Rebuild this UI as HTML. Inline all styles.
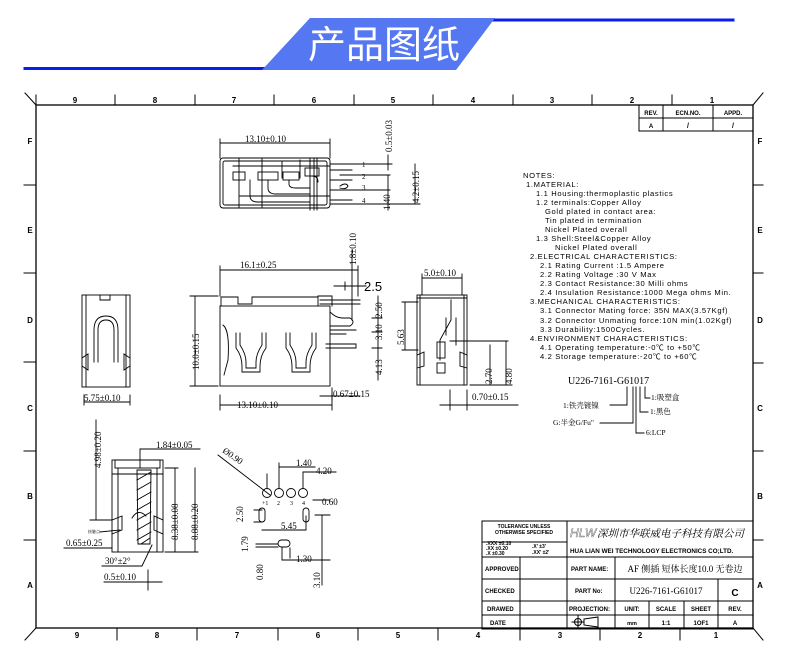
<!DOCTYPE html>
<html><head><meta charset="utf-8">
<style>
html,body{margin:0;padding:0;background:#fff;}
svg{display:block;}
.s{font-family:"Liberation Sans","Noto Sans CJK SC",sans-serif;}
.r{font-family:"Liberation Serif","Noto Serif CJK SC",serif;}
</style></head><body>
<svg width="790" height="663" viewBox="0 0 790 663" xmlns="http://www.w3.org/2000/svg" stroke-linecap="square">
<!-- header -->
<line x1="25" y1="68.5" x2="265" y2="68.5" stroke="#0a1ef0" stroke-width="3"/>
<line x1="492" y1="20" x2="733" y2="20" stroke="#0a1ef0" stroke-width="3"/>
<polygon points="310,18 495,18 456,70 262,70" fill="#5577f2"/>
<text x="384" y="58" text-anchor="middle" class="s" font-size="38" fill="#fff" font-family="Noto Sans CJK SC">产品图纸</text>

<g stroke="#000" fill="none" stroke-width="1">
<rect x="36" y="105" width="717" height="523" stroke-width="1.3"/>
<line x1="25" y1="93" x2="36" y2="105"/>
<line x1="753" y1="105" x2="763" y2="93"/>
<line x1="753" y1="628" x2="763" y2="640"/>
<line x1="25" y1="640" x2="36" y2="628"/>
<line x1="36" y1="95" x2="36" y2="105"/>
<path d="M115 95V105M195 95V105M274 95V105M354 95V105M433 95V105M513 95V105M592 95V105M672 95V105"/>
<path d="M117 628V640M197 628V640M278 628V640M358 628V640M438 628V640M520 628V640M600 628V640M680 628V640"/>
<path d="M24 185H36M24 273H36M24 362H36M24 451H36M24 540H36"/>
<path d="M753 185H763M753 273H763M753 363H763M753 451H763M753 540H763"/>
<rect x="639" y="105" width="114" height="26"/>
<path d="M639 118H753M663 105V131M713 105V131"/>
</g>
<g class="s" font-size="8" font-weight="bold" text-anchor="middle">
<text x="75" y="103">9</text><text x="155" y="103">8</text><text x="234" y="103">7</text><text x="314" y="103">6</text><text x="393" y="103">5</text><text x="473" y="103">4</text><text x="552" y="103">3</text><text x="632" y="103">2</text><text x="712" y="103">1</text>
<text x="77" y="638">9</text><text x="157" y="638">8</text><text x="237" y="638">7</text><text x="318" y="638">6</text><text x="398" y="638">5</text><text x="478" y="638">4</text><text x="560" y="638">3</text><text x="640" y="638">2</text><text x="716" y="638">1</text>
<text x="30" y="144">F</text><text x="30" y="233">E</text><text x="30" y="323">D</text><text x="30" y="411">C</text><text x="30" y="499">B</text><text x="30" y="588">A</text>
<text x="760" y="144">F</text><text x="760" y="233">E</text><text x="760" y="323">D</text><text x="760" y="411">C</text><text x="760" y="499">B</text><text x="760" y="588">A</text>
<text x="651" y="115" font-size="6">REV.</text><text x="688" y="115" font-size="6">ECN.NO.</text><text x="733" y="115" font-size="6">APPD.</text>
<text x="651" y="128" font-size="6">A</text><text x="688" y="128" font-size="7">/</text><text x="733" y="128" font-size="7">/</text>
</g>

<!-- TOP VIEW -->
<g stroke="#000" fill="none" stroke-width="0.9">
<rect x="220" y="158" width="110" height="50" rx="3"/>
<rect x="223" y="161" width="104" height="44" rx="2"/>
<path d="M239 158V208M262 158V208M282 162V178M300 160V178M330 164H360M330 170H352M330 180H352M330 190H352M330 200H352M330 204H360"/>
<rect x="233" y="172" width="12" height="8"/><rect x="258" y="172" width="20" height="8"/><rect x="283" y="172" width="16" height="8"/><rect x="305" y="168" width="14" height="8"/>
<path d="M310 158V210M314 158V210M317 158V210M233 166H330M240 196H330"/>
<path d="M250 180V196Q250 202 258 202H310M268 180V188Q268 194 276 194H310M289 180V184Q289 188 296 188H310M312 176Q318 176 318 182"/>
<path d="M340 186Q346 182 348 186Q346 190 340 188"/>
<path d="M220 143H330M220 139V158M330 139V158"/>
<path d="M358 164H392M340 175H390M340 190H390M358 204H420M388 155V170M388 175V210M415 164V204"/>
</g>
<g class="r" font-size="9">
<text x="245" y="142">13.10±0.10</text>
<text transform="translate(392,152) rotate(-90)">0.5±0.03</text>
<text transform="translate(419,203) rotate(-90)">4.2±0.15</text>
<text transform="translate(390,210) rotate(-90)">1.40</text>
<text x="362" y="167" font-size="7">1</text><text x="362" y="179" font-size="7">2</text><text x="362" y="190" font-size="7">3</text><text x="362" y="203" font-size="7">4</text>
</g>

<!-- LEFT SIDE VIEW -->
<g stroke="#000" fill="none" stroke-width="0.9">
<rect x="82" y="295" width="48" height="92"/>
<path d="M86 295V387M126 295V387M100 295V300H110V295"/>
<path d="M94 362V330Q94 316 106 316Q118 316 118 330V362M98 362V330Q98 320 106 320Q114 320 114 330V362"/>
<path d="M82 358L88 354V370L82 366M130 358L124 354V370L130 366"/>
<path d="M84 395V405M130 395V405M84 402H130"/>
</g>
<text x="84" y="401" class="r" font-size="9">5.75±0.10</text>

<!-- FRONT VIEW -->
<g stroke="#000" fill="none" stroke-width="0.9">
<rect x="220" y="306" width="110" height="80"/>
<path d="M221 306V297H238V304H252V297H318V306"/>
<path d="M318 296H332V306M320 300H360M320 304H360"/>
<path d="M236 333V348Q242 356 242 366V372H260V366Q260 356 266 348V333M240 333V345Q246 354 246 362V368H256V362Q256 354 262 345V333"/>
<path d="M286 333V348Q292 356 292 366V372H310V366Q310 356 316 348V333M290 333V345Q296 354 296 362V368H306V362Q306 354 312 345V333"/>
<path d="M223 325Q230 330 228 360L224 375"/>
<path d="M330 312Q336 318 342 318H350Q356 322 350 326H330M330 330H356M330 334H346M326 344H356V348H326"/>
<path d="M220 270H358M220 266V296M358 266V296"/>
<path d="M220 405H332M220 395V410M332 395V410"/>
<path d="M195 296V386M190 296H218M190 386H218"/>
<path d="M352 250V320M334 286H366M345 282V290M378 296V380M372 318H382M372 332H382M372 348H382"/>
<path d="M320 396H360M332 388V400"/>
</g>
<g class="r" font-size="9">
<text x="240" y="268">16.1±0.25</text>
<text x="237" y="408">13.10±0.10</text>
<text transform="translate(199,370) rotate(-90)">10.0±0.15</text>
<text transform="translate(356,265) rotate(-90)">1.8±0.10</text>
<text x="364" y="291" font-size="13" class="s">2.5</text>
<text transform="translate(382,318) rotate(-90)">2.50</text>
<text transform="translate(382,340) rotate(-90)">3.10</text>
<text transform="translate(382,375) rotate(-90)">4.13</text>
<text transform="translate(404,345) rotate(-90)">5.63</text>
<text x="333" y="397">0.67±0.15</text>
</g>

<!-- RIGHT SIDE VIEW -->
<g stroke="#000" fill="none" stroke-width="0.9">
<rect x="417" y="295" width="50" height="90"/>
<path d="M420 295V385M464 295V385M417 298H467"/>
<path d="M451 300V320L440 340V360M446 318V335M456 318V345"/>
<rect x="437" y="342" width="8" height="16"/><rect x="437" y="363" width="8" height="10"/>
<path d="M417 355L424 352V366L417 368M467 355L460 352V366L467 368"/>
<path d="M422 278H462M422 274V295M462 274V295"/>
<path d="M405 302V350M402 302H418M402 350H418"/>
<path d="M450 341H508M470 385H512M490 345V385M506 341V385"/>
<path d="M440 405H518M450 390V410M467 390V410"/>
</g>
<g class="r" font-size="9">
<text x="424" y="276">5.0±0.10</text>
<text transform="translate(492,384) rotate(-90)">2.70</text>
<text transform="translate(512,384) rotate(-90)">4.80</text>
<text x="472" y="400">0.70±0.15</text>
</g>

<!-- NOTES -->
<g class="s" font-size="7.6" letter-spacing="0.65">
<text x="523" y="178">NOTES:</text>
<text x="526" y="187">1.MATERIAL:</text>
<text x="536" y="196">1.1 Housing:thermoplastic plastics</text>
<text x="536" y="205">1.2 terminals:Copper Alloy</text>
<text x="545" y="214">Gold plated in contact area:</text>
<text x="545" y="223">Tin plated in termination</text>
<text x="545" y="232">Nickel Plated overall</text>
<text x="536" y="241">1.3 Shell:Steel&amp;Copper Alloy</text>
<text x="555" y="250">Nickel Plated overall</text>
<text x="530" y="259">2.ELECTRICAL CHARACTERISTICS:</text>
<text x="540" y="268">2.1 Rating Current :1.5 Ampere</text>
<text x="540" y="277">2.2 Rating Voltage :30 V Max</text>
<text x="540" y="286">2.3 Contact Resistance:30 Milli ohms</text>
<text x="540" y="295">2.4 Insulation Resistance:1000 Mega ohms Min.</text>
<text x="530" y="304">3.MECHANICAL CHARACTERISTICS:</text>
<text x="540" y="313">3.1 Connector Mating force: 35N MAX(3.57Kgf)</text>
<text x="540" y="323">3.2 Connector Unmating force:10N min(1.02Kgf)</text>
<text x="540" y="332">3.3 Durability:1500Cycles.</text>
<text x="530" y="341">4.ENVIRONMENT CHARACTERISTICS:</text>
<text x="540" y="350">4.1 Operating temperature:-0℃ to +50℃</text>
<text x="540" y="359">4.2 Storage temperature:-20℃ to +60℃</text>
</g>
<text x="568" y="384" class="r" font-size="10">U226-7161-G61017</text>
<g stroke="#000" fill="none" stroke-width="0.9">
<path d="M645 387V398H650M640 387V412H648M627 387V405H610M633 387V423H600M636 387V433H644"/>
</g>
<g class="r" font-size="7.5">
<text x="651" y="400">1:吸塑盒</text>
<text x="563" y="408">1:铁壳镀镍</text>
<text x="650" y="414">1:黑色</text>
<text x="553" y="425">G:半金G/Fu"</text>
<text x="646" y="435">6:LCP</text>
</g>

<!-- BOTTOM LEFT VIEW -->
<g stroke="#000" fill="none" stroke-width="0.9">
<rect x="112" y="460" width="51" height="92"/>
<rect x="115" y="460" width="45" height="8"/>
<path d="M118 468V552M157 468V552M112 474H163"/>
<polygon points="137,470 151,470 150,544 138,544"/>
<path d="M137 480L151 472M137 490L151 482M137 500L151 492M137 510L151 502M137 520L151 512M137 530L151 522M137 540L151 532M141 544L150 538"/>
<path d="M112 520L122 516V530L112 534M163 520L154 516V530L163 534"/>
<path d="M132 518Q138 508 146 516"/>
<path d="M96 420V520M90 520H112"/>
<path d="M140 449H200M140 449V468"/>
<path d="M165 468H178M165 552H198M175 468V552M195 468V552"/>
<path d="M64 548H112M100 532L120 530"/>
<path d="M102 566H142L152 545M104 582H162M148 570V590"/>
</g>
<g class="r" font-size="9">
<text transform="translate(101,468) rotate(-90)">4.98±0.20</text>
<text x="156" y="448">1.84±0.05</text>
<text transform="translate(178,540) rotate(-90)">8.38±0.08</text>
<text transform="translate(198,540) rotate(-90)">8.88±0.20</text>
<text x="88" y="533" font-size="4">接触点</text>
<text x="66" y="546">0.65±0.25</text>
<text x="105" y="564">30°±2°</text>
<text x="104" y="580">0.5±0.10</text>
</g>

<!-- FOOTPRINT -->
<g stroke="#000" fill="none" stroke-width="0.9">
<circle cx="267" cy="493" r="4.5"/><circle cx="279" cy="493" r="4.5"/><circle cx="291" cy="493" r="4.5"/><circle cx="303" cy="493" r="4.5"/>
<rect x="259" y="508" width="6" height="14" rx="3"/><rect x="303" y="508" width="6" height="14" rx="3"/><rect x="278" y="540" width="12" height="7" rx="3.5"/>
<path d="M218 455L270 495M279 463V488M279 467H315M267 474V488M303 472H336M303 472V488M313 500H330M254 510H262M254 522H262M262 530H306M306 516V530M256 544H278M256 547H278M282 548V560H330M290 548V558M315 515H330M322 515V585"/>
</g>
<g class="r" font-size="9">
<text transform="translate(222,452) rotate(35)">Ø0.90</text>
<text x="296" y="466">1.40</text>
<text x="316" y="474">4.20</text>
<text x="322" y="505">0.60</text>
<text transform="translate(243,522) rotate(-90)">2.50</text>
<text x="281" y="529">5.45</text>
<text transform="translate(248,552) rotate(-90)">1.79</text>
<text x="296" y="562">1.30</text>
<text transform="translate(263,580) rotate(-90)">0.80</text>
<text transform="translate(320,588) rotate(-90)">3.10</text>
<text x="262" y="505" font-size="6">+1</text><text x="277" y="505" font-size="6">2</text><text x="290" y="505" font-size="6">3</text><text x="302" y="505" font-size="6">4</text>
</g>

<!-- TITLE BLOCK -->
<g stroke="#000" fill="none" stroke-width="1">
<rect x="482" y="521" width="271" height="108"/>
<path d="M482 557H753M482 579H753M482 601H753M482 615H753M482 542H567"/>
<path d="M567 521V629M520 557V629M615 557V601M615 601V629M649 601V629M684 601V629M718 579V629"/>
<circle cx="578" cy="622" r="3.5"/><path d="M572 622H584M578 616V628M584 619L598 617V627L584 625Z"/>
</g>
<g class="s" font-size="6" font-weight="bold">
<text x="524" y="528" text-anchor="middle" font-size="5">TOLERANCE UNLESS</text>
<text x="524" y="534" text-anchor="middle" font-size="5">OTHERWISE SPECIFIED</text>
<text x="486" y="545" font-size="5">.XXX ±0.10</text>
<text x="486" y="550" font-size="5">.XX  ±0.20</text>
<text x="486" y="555" font-size="5">.X   ±0.30</text>
<text x="532" y="548" font-size="5">.X'  ±3'</text>
<text x="532" y="554" font-size="5">.XX' ±2'</text>
<text x="485" y="571">APPROVED</text>
<text x="485" y="593">CHECKED</text>
<text x="487" y="611">DRAWED</text>
<text x="490" y="625">DATE</text>
<text x="571" y="571">PART NAME:</text>
<text x="575" y="593">PART No:</text>
<text x="569" y="611">PROJECTION:</text>
<text x="632" y="611" text-anchor="middle">UNIT:</text>
<text x="666" y="611" text-anchor="middle">SCALE</text>
<text x="701" y="611" text-anchor="middle">SHEET</text>
<text x="735" y="611" text-anchor="middle">REV.</text>
<text x="632" y="625" text-anchor="middle" font-size="5.5">mm</text>
<text x="666" y="625" text-anchor="middle">1:1</text>
<text x="701" y="625" text-anchor="middle">1OF1</text>
<text x="735" y="625" text-anchor="middle">A</text>
<text x="570" y="553" font-size="6.3">HUA LIAN WEI TECHNOLOGY ELECTRONICS CO;LTD.</text>
<text x="735" y="596" text-anchor="middle" font-size="10">C</text>
</g>
<text x="570" y="537" class="s" font-size="12" font-style="italic" stroke="#000" stroke-width="0.3" fill="#fff">HLW</text>
<text x="597" y="537" class="r" font-size="10.5" font-style="italic" font-family="Noto Serif CJK SC">深圳市华联威电子科技有限公司</text>
<text x="685" y="572" class="r" text-anchor="middle" font-size="9" font-family="Noto Serif CJK SC">AF 侧插 短体长度10.0 无卷边</text>
<text x="666" y="594" class="r" text-anchor="middle" font-size="9">U226-7161-G61017</text>
</svg>
</body></html>
